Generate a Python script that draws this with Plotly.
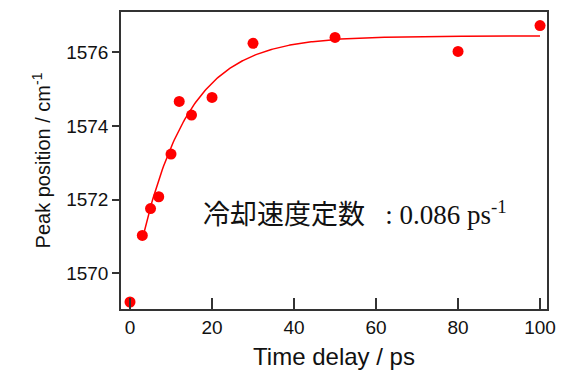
import numpy as np
import plotly.graph_objects as go

# Measured data
time_ps = [0, 3, 5, 7, 10, 12, 15, 20, 30, 50, 80, 100]
peak_pos = [1569.22, 1571.03, 1571.76, 1572.08, 1573.24, 1574.67, 1574.30,
            1574.78, 1576.25, 1576.41, 1576.03, 1576.73]

# Exponential fit parameters (rate constant as stated on the chart)
fit_rate = 0.086      # ps^-1
fit_plateau = 1576.45
fit_amp = 7.15
fit_t_start = 3
fit_t_end = 100

x_ticks = [0, 20, 40, 60, 80, 100]
y_ticks = [1570, 1572, 1574, 1576]

t_fit = np.linspace(fit_t_start, fit_t_end, 300)
y_fit = fit_plateau - fit_amp * np.exp(-fit_rate * t_fit)

fig = go.Figure()
fig.add_trace(go.Scatter(x=t_fit, y=y_fit, mode="lines",
                         line=dict(color="#ff0000", width=1.5),
                         hoverinfo="skip", showlegend=False))
fig.add_trace(go.Scatter(x=time_ps, y=peak_pos, mode="markers",
                         marker=dict(color="#ff0000", size=11),
                         showlegend=False))

axis_common = dict(showline=True, linecolor="#333333", linewidth=1.5,
                   mirror=True, showgrid=False, zeroline=False,
                   tickcolor="#333333", tickwidth=1.5,
                   tickfont=dict(family="Liberation Sans, Arial", size=19, color="#111111"))

fig.update_xaxes(range=[-2.2, 101.7], tickvals=x_ticks, ticks="inside", ticklen=11,
                 title=dict(text="Time delay / ps", standoff=12,
                            font=dict(family="Liberation Sans, Arial", size=24, color="#111111")),
                 **axis_common)
fig.update_yaxes(range=[1569.03, 1577.1], tickvals=y_ticks, ticks="outside", ticklen=7,
                 title=dict(text="Peak position / cm<sup>-1</sup>", standoff=10,
                            font=dict(family="Liberation Sans, Arial", size=20, color="#111111")),
                 **axis_common)

fig.add_annotation(x=(202 - 121) / (552 - 121), y=(309 - 212) / (309 - 10),
                   xref="paper", yref="paper",
                   text="冷却速度定数\u2002 : 0.086 ps<sup>-1</sup>",
                   showarrow=False, xanchor="left", yanchor="middle",
                   font=dict(family="Liberation Serif, Noto Sans CJK JP", size=27, color="#111111"))

fig.update_layout(width=566, height=376, margin=dict(l=121, r=14, t=10, b=67),
                  plot_bgcolor="white", paper_bgcolor="white")

fig.write_html("out.html", config={"displayModeBar": False},
               post_script="document.body.style.margin='0';")
